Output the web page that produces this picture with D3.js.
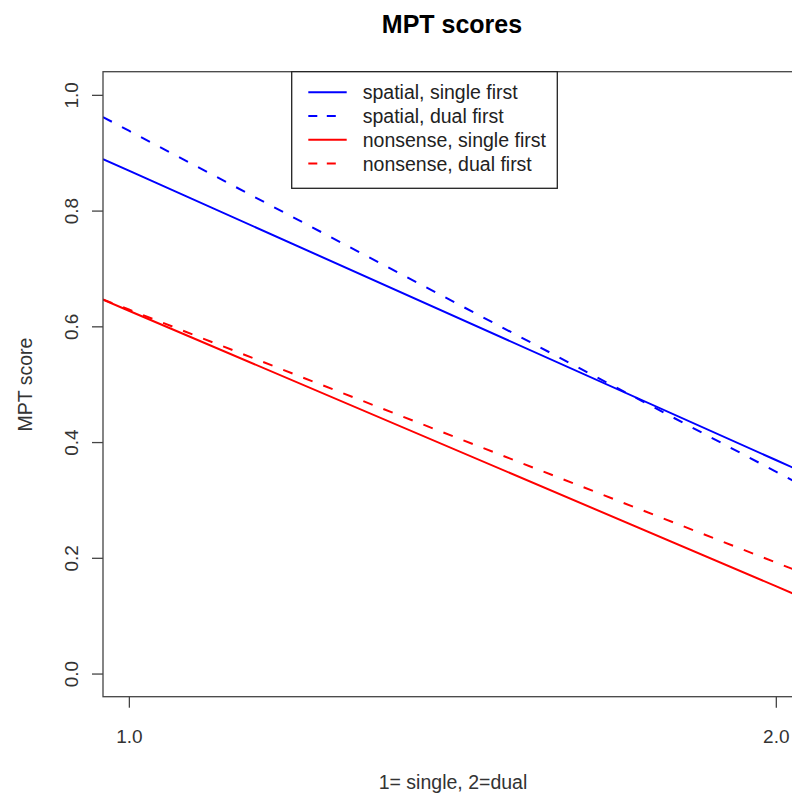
<!DOCTYPE html>
<html>
<head>
<meta charset="utf-8">
<script src="https://cdn.jsdelivr.net/npm/d3@7"></script>
<style>
  html, body { margin: 0; padding: 0; background: #ffffff; }
  svg { display: block; font-family: "Liberation Sans", Arial, sans-serif; }
</style>
</head>
<body>
<svg id="chart" width="792" height="794"></svg>
<script>
// ---- data ----
const conditions = [1, 2];                // 1 = single, 2 = dual
const xTicks = [1.0, 2.0];
const yTicks = [0.0, 0.2, 0.4, 0.6, 0.8, 1.0];
const seriesNames = ["spatial, single first", "spatial, dual first", "nonsense, single first", "nonsense, dual first"];
const spatialSingle = [0.869, 0.369];
const spatialDual = [0.938, 0.349];
const nonsenseSingle = [0.627, 0.151];
const nonsenseDual = [0.629, 0.192];
const seriesColors = ["#0000ff", "#0000ff", "#ff0000", "#ff0000"];
const seriesDashed = [false, true, false, true];

const seriesValues = [spatialSingle, spatialDual, nonsenseSingle, nonsenseDual];

// ---- layout ----
const svg = d3.select("#chart");
const W = 792, H = 794;
const plot = { left: 103, right: 801.7, top: 71.7, bottom: 696.7 };

const x = d3.scaleLinear().domain([0.96, 2.04]).range([plot.left, plot.right]);
const y = d3.scaleLinear().domain([-0.04, 1.04]).range([plot.bottom, plot.top]);

svg.append("rect").attr("width", W).attr("height", H).attr("fill", "#ffffff");

svg.append("defs").append("clipPath").attr("id", "clip")
  .append("rect")
  .attr("x", plot.left).attr("y", plot.top)
  .attr("width", plot.right - plot.left).attr("height", plot.bottom - plot.top);

// ---- lines (straight lines through the two condition values, spanning the plot) ----
const dom = x.domain();
const lineGen = d3.line().x(d => x(d[0])).y(d => y(d[1]));
const lines = svg.append("g").attr("clip-path", "url(#clip)");
seriesValues.forEach((vals, i) => {
  const slope = (vals[1] - vals[0]) / (conditions[1] - conditions[0]);
  const f = xv => vals[0] + slope * (xv - conditions[0]);
  const pts = [[dom[0], f(dom[0])], [conditions[0], vals[0]], [conditions[1], vals[1]], [dom[1], f(dom[1])]];
  lines.append("path")
    .attr("d", lineGen(pts))
    .attr("fill", "none")
    .attr("stroke", seriesColors[i])
    .attr("stroke-width", 2)
    .attr("stroke-dasharray", seriesDashed[i] ? "10,11.5" : null);
});

// ---- box ----
svg.append("rect")
  .attr("x", plot.left).attr("y", plot.top)
  .attr("width", plot.right - plot.left).attr("height", plot.bottom - plot.top)
  .attr("fill", "none").attr("stroke", "#444").attr("stroke-width", 1.3);

// ---- axes ----
const xAxis = svg.append("g")
  .attr("transform", `translate(0,${plot.bottom})`)
  .call(d3.axisBottom(x).tickValues(xTicks).tickFormat(d3.format(".1f")).tickSize(11).tickSizeOuter(0));
xAxis.select(".domain").remove();
xAxis.selectAll("line").attr("stroke", "#444").attr("stroke-width", 1.3);
xAxis.selectAll("text")
  .attr("y", 46.3).attr("dy", "0")
  .attr("font-size", 19).attr("fill", "#333")
  .attr("font-family", "Liberation Sans, Arial, sans-serif");

const yAxis = svg.append("g")
  .attr("transform", `translate(${plot.left},0)`)
  .call(d3.axisLeft(y).tickValues(yTicks).tickFormat(d3.format(".1f")).tickSize(11).tickSizeOuter(0));
yAxis.select(".domain").remove();
yAxis.selectAll("line").attr("stroke", "#444").attr("stroke-width", 1.3);
yAxis.selectAll("text")
  .attr("x", 0).attr("y", -25).attr("dy", "0")
  .attr("transform", "rotate(-90)")
  .attr("text-anchor", "middle")
  .attr("font-size", 19).attr("fill", "#333")
  .attr("font-family", "Liberation Sans, Arial, sans-serif");

// ---- titles ----
svg.append("text")
  .attr("x", 452).attr("y", 32.5)
  .attr("text-anchor", "middle")
  .attr("font-size", 25).attr("font-weight", "bold").attr("fill", "#000")
  .text("MPT scores");

svg.append("text")
  .attr("x", 453).attr("y", 789)
  .attr("text-anchor", "middle")
  .attr("font-size", 19.5).attr("fill", "#333")
  .text("1= single, 2=dual");

svg.append("text")
  .attr("transform", `translate(31.5,${384.5}) rotate(-90)`)
  .attr("text-anchor", "middle")
  .attr("font-size", 19.5).attr("fill", "#333")
  .text("MPT score");

// ---- legend ----
const lg = svg.append("g");
lg.append("rect")
  .attr("x", 291.7).attr("y", 71.7).attr("width", 265.6).attr("height", 116.6)
  .attr("fill", "#ffffff").attr("stroke", "#222").attr("stroke-width", 1.3);
const rowY = [92.3, 116, 139.8, 163.5];
seriesNames.forEach((name, i) => {
  lg.append("line")
    .attr("x1", 308.3).attr("x2", 346.7)
    .attr("y1", rowY[i]).attr("y2", rowY[i])
    .attr("stroke", seriesColors[i]).attr("stroke-width", 2)
    .attr("stroke-dasharray", seriesDashed[i] ? "9,9.5,9,100" : null);
  lg.append("text")
    .attr("x", 362.7).attr("y", rowY[i] + 7)
    .attr("font-size", 19.5).attr("fill", "#222")
    .text(name);
});
</script>
</body>
</html>
